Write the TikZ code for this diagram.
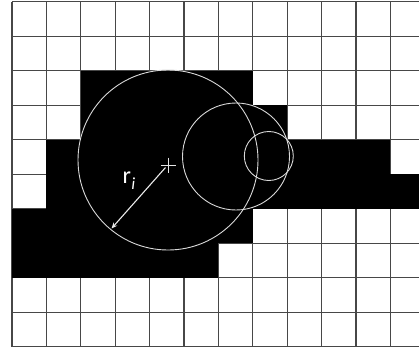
\documentclass[tikz,border=0pt]{standalone}
\usepackage{fontspec}
\newfontfamily\labelfont{Carlito}
\usetikzlibrary{arrows.meta}
\begin{document}
\begin{tikzpicture}[x=1pt,y=-1pt,
  gridline/.style={draw=black!72,line width=1.3pt},
  cellfill/.style={fill=black},
  ring/.style={draw=black!15,line width=0.9pt},
  radiusarrow/.style={draw=black!8,line width=1.1pt,-{Stealth[length=6pt,width=5pt]}}]
\useasboundingbox (0,0) rectangle (419,351);
\fill[white] (0,0) rectangle (419,351);
% grid
\foreach \k in {0,...,11} \draw[gridline] ({12+34.4*\k},1.7) -- ({12+34.4*\k},346.7);
\foreach \k in {0,...,10} \draw[gridline] (12,{1.7+34.5*\k}) -- (419,{1.7+34.5*\k});
% black cells
\fill[cellfill] (80.8,70.7) rectangle (252.8,105.2);
\fill[cellfill] (80.8,105.2) rectangle (287.2,139.7);
\fill[cellfill] (46.4,139.7) rectangle (390.4,174.2);
\fill[cellfill] (46.4,174.2) rectangle (419,208.7);
\fill[cellfill] (12,208.7) rectangle (252.8,243.2);
\fill[cellfill] (12,243.2) rectangle (218.4,277.7);
% circles
\draw[ring] (168,160) circle[radius=90pt];
\draw[ring] (236,156.5) circle[radius=53.5pt];
\draw[ring] (268.8,156) circle[radius=24.5pt];
% centre mark
\coordinate (c) at (168,165);
\coordinate (tip) at (111.5,228.5);
\draw[draw=black!10,line width=1pt] (160.5,165) -- (175.5,165) (168,157.5) -- (168,172.5);
\draw[radiusarrow] (165.5,167.5) -- (tip);
\node[text=white,font=\labelfont\fontsize{24}{28}\selectfont,inner sep=0pt] (lab) at (129,181) {r\kern0.5pt\raisebox{-6pt}{\fontsize{17}{20}\selectfont\itshape i}};
\end{tikzpicture}
\end{document}
